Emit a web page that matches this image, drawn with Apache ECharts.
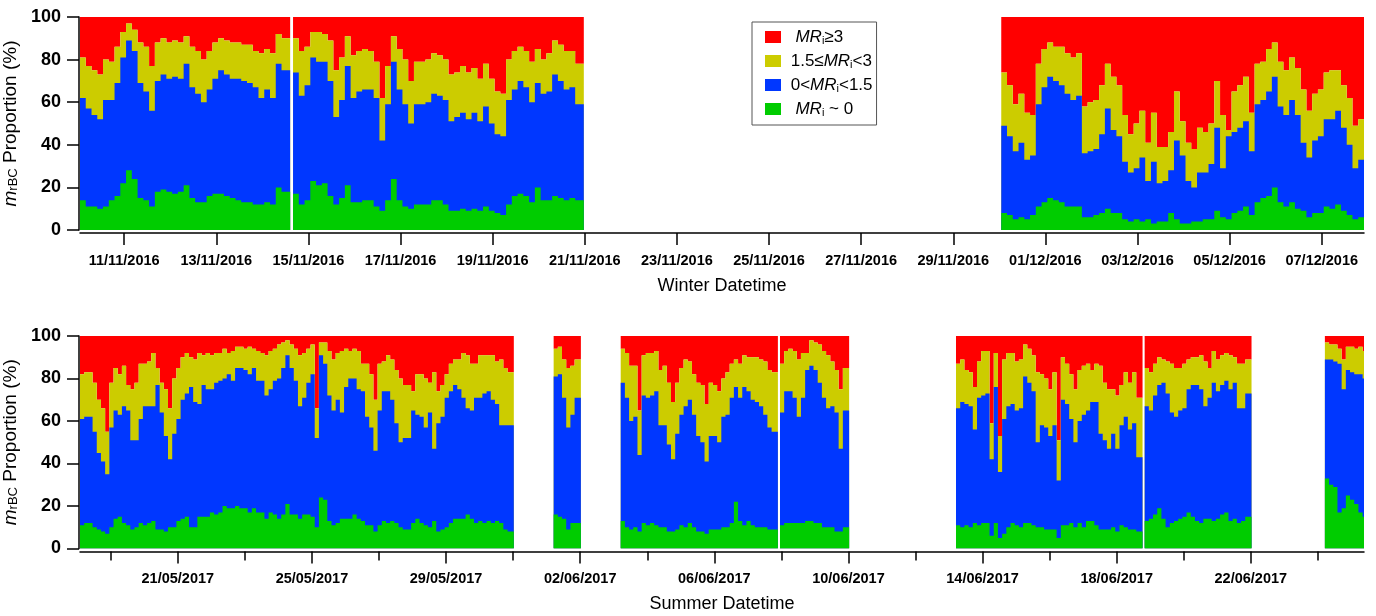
<!DOCTYPE html>
<html>
<head>
<meta charset="utf-8">
<title>rBC mixing state proportions</title>
<script src="https://cdn.jsdelivr.net/npm/echarts@6/dist/echarts.min.js"></script>
<style>
  html, body { margin: 0; padding: 0; background: #fff; }
  #chart { width: 1376px; height: 616px; }
</style>
</head>
<body>
<div id="chart"></div>
<script>
// 3-hourly bins. Each panel is split in runs of continuous data, one start time per run.
// Values are the cumulative tops (%):
//   green = MRi~0, blue = green + 0<MRi<1.5, yellow = blue + 1.5<=MRi<3, above yellow = MRi>=3

var winterStart = ['10/11/2016 01:00', '14/11/2016 16:00', '30/11/2016 01:00'];
var winterGreen = [
  [14,11,11,10,11,14,16,22,28,24,15,14,11,18,19,18,17,18,21,15,13,13,16,17,17,16,15,14,13,13,12,12,13,12,20,18],
  [17,12,14,23,21,22,16,12,15,21,13,13,14,14,11,9,14,24,14,11,10,12,12,12,14,14,12,9,9,10,9,10,9,11,9,8,7,12,16,17,16,13,20,14,14,16,15,14,15,14],
  [8,7,5,6,5,7,11,13,15,14,13,11,11,11,6,6,7,8,10,8,8,5,4,5,4,5,3,4,4,8,5,3,3,4,4,5,5,9,6,5,8,9,11,7,13,15,16,20,13,11,13,10,9,6,8,8,11,10,12,9,7,5,6]
];
var winterBlue = [
  [62,57,54,52,61,61,69,81,89,84,69,65,56,70,73,71,72,71,78,67,64,60,66,71,75,73,71,71,70,69,67,62,66,62,78,75],
  [74,63,68,81,79,79,70,53,61,77,62,65,66,66,62,42,59,79,66,59,50,59,59,60,64,63,61,51,53,55,52,55,51,58,50,45,44,61,66,70,67,60,69,64,65,73,70,66,67,59],
  [49,44,37,41,33,35,59,67,72,70,68,64,61,63,36,37,38,45,57,47,44,32,27,29,34,23,32,22,23,28,42,35,23,20,27,27,31,48,29,44,46,48,51,37,59,61,65,72,58,54,61,54,41,34,42,44,52,52,56,48,40,29,33]
];
var winterYellow = [
  [81,77,75,73,80,79,86,93,97,94,88,86,77,88,90,88,89,88,91,86,84,80,84,88,90,89,88,88,87,87,84,83,85,83,92,90],
  [90,84,86,93,93,92,89,75,81,91,82,84,85,84,79,62,77,91,85,80,70,79,79,80,83,82,80,73,74,77,74,76,71,78,71,65,64,80,84,86,84,79,85,80,83,89,87,84,84,78],
  [74,68,59,64,55,54,78,85,88,86,86,83,81,83,58,60,61,68,78,72,68,54,45,50,56,41,55,39,39,46,65,51,41,38,48,46,50,70,54,47,65,68,72,55,78,79,85,88,79,75,81,76,66,56,64,66,74,75,75,68,62,49,52]
];

var summerStart = ['18/05/2017 02:00', '01/06/2017 05:00', '03/06/2017 05:00', '07/06/2017 23:00',
                   '13/06/2017 05:00', '18/06/2017 20:00', '24/06/2017 05:00'];
var summerGreen = [
  [11,12,12,10,9,8,7,10,14,15,12,11,9,10,12,11,12,13,9,9,8,10,10,13,14,15,10,10,15,15,15,17,16,17,20,19,19,20,19,19,17,19,17,17,14,17,16,14,16,21,16,16,14,16,16,15,10,24,23,13,
   11,12,14,14,14,16,14,13,11,11,8,11,13,12,13,12,10,9,9,12,14,12,11,10,13,8,9,10,12,14,14,14,16,14,12,13,12,13,12,13,12,9,8],
  [16,15,14,9,12,12],
  [13,10,9,10,8,12,11,12,11,10,10,8,8,9,11,10,12,10,8,8,7,9,9,9,10,10,12,22,13,11,13,11,10,10,10,9,9],
  [11,12,12,12,12,12,13,13,12,12,10,10,10,8,8,10],
  [11,10,11,10,12,11,12,12,6,12,5,7,10,12,11,10,12,12,11,10,10,9,9,9,5,11,11,12,10,12,10,13,13,11,9,9,9,10,8,11,10,9,9,8],
  [13,14,16,19,14,10,12,13,14,15,17,15,13,12,14,14,13,14,16,17,13,14,12,13,15],
  [33,30,29,17,19,25,23,21,17,15]
];
var summerBlue = [
  [61,62,62,55,45,41,35,57,65,63,67,65,51,51,61,67,67,67,77,64,53,42,54,61,70,73,76,69,68,77,75,75,78,79,80,82,79,85,85,84,82,85,79,79,72,75,79,80,85,91,85,79,67,71,78,82,52,91,87,72,
   65,70,64,76,80,80,75,74,62,57,46,65,74,74,70,59,50,52,52,65,63,62,57,64,47,59,62,71,74,77,75,71,66,65,71,71,73,74,70,68,58,58,58],
  [81,82,71,57,63,71],
  [78,71,60,62,44,72,71,72,74,58,58,49,42,54,63,67,70,63,53,50,41,53,53,50,62,63,71,76,71,76,74,70,69,67,63,57,55],
  [64,74,74,71,62,71,84,86,84,78,71,66,67,64,47,65],
  [66,69,68,67,56,71,72,73,42,76,36,61,67,68,65,66,81,78,74,50,58,57,53,58,32,70,68,61,50,60,63,65,69,69,54,51,47,54,47,58,62,56,59,43],
  [67,65,72,77,78,73,64,62,65,66,75,77,77,75,67,71,78,74,77,79,75,78,66,66,73],
  [89,89,88,87,75,84,83,82,82,80]
];
var summerYellow = [
  [82,83,83,78,70,66,55,78,85,82,86,77,75,78,87,87,88,92,85,78,75,66,80,85,90,92,90,89,92,91,92,91,92,92,94,92,93,95,95,94,95,94,93,92,91,93,94,96,97,98,96,94,91,92,94,96,66,97,97,93,
   89,92,93,94,93,94,93,87,87,82,70,87,88,91,89,84,80,77,77,74,82,82,80,78,83,74,77,82,87,89,89,92,91,87,87,91,91,91,91,88,89,85,83],
  [94,95,89,85,86,89],
  [94,92,86,86,65,91,92,92,93,84,86,78,69,78,85,89,88,82,78,77,68,78,77,74,80,83,87,89,87,91,90,90,90,89,88,84,83],
  [87,93,94,93,89,92,92,98,97,96,93,91,88,84,75,85],
  [87,89,84,83,76,88,93,93,59,92,53,89,92,92,88,89,96,94,91,83,82,80,75,83,51,90,87,82,75,84,86,87,84,87,86,78,75,75,72,77,83,78,83,71],
  [85,83,87,90,89,88,87,85,85,87,89,90,90,91,88,85,93,89,91,92,91,90,87,87,89],
  [97,96,96,94,89,95,95,94,95,93]
];

var winterRange = ['10/11/2016 01:00', '07/12/2016 22:00'];
var summerRange = ['18/05/2017 02:00', '25/06/2017 09:00'];

var winterTicks = ['11/11/2016','13/11/2016','15/11/2016','17/11/2016','19/11/2016','21/11/2016','23/11/2016',
                   '25/11/2016','27/11/2016','29/11/2016','01/12/2016','03/12/2016','05/12/2016','07/12/2016'];
var summerTicks = ['19/05/2017','21/05/2017','23/05/2017','25/05/2017','27/05/2017','29/05/2017','31/05/2017',
                   '02/06/2017','04/06/2017','06/06/2017','08/06/2017','10/06/2017','12/06/2017','14/06/2017',
                   '16/06/2017','18/06/2017','20/06/2017','22/06/2017','24/06/2017'];
var summerLabels = ['21/05/2017','25/05/2017','29/05/2017','02/06/2017','06/06/2017','10/06/2017',
                    '14/06/2017','18/06/2017','22/06/2017'];

var names = ['MRi ~ 0', '0<MRi<1.5', '1.5≤MRi<3', 'MRi≥3'];
var colors = ['#00cc00', '#0037ff', '#cccc00', '#ff0000'];

var FONT = '"Liberation Sans", Arial, Helvetica, sans-serif';
var BIN = 3 * 3600 * 1000;

function parseDate(s) {
  var p = s.split(' ');
  var d = p[0].split('/');
  var hm = (p[1] || '00:00').split(':');
  return new Date(+d[2], +d[1] - 1, +d[0], +hm[0], +hm[1]).getTime();
}
function pad(n) { return n < 10 ? '0' + n : '' + n; }
function fmtDate(v) {
  var d = new Date(v);
  return pad(d.getDate()) + '/' + pad(d.getMonth() + 1) + '/' + d.getFullYear();
}

// step lines through the cumulative tops, with a null between runs
function tops(starts, runs) {
  var out = [];
  starts.forEach(function (s, i) {
    var t0 = parseDate(s);
    var n = runs[i].length;
    for (var k = 0; k <= n; k++) {
      out.push([t0 + k * BIN, runs[i][Math.min(k, n - 1)]]);   // closing point keeps the last bin's level
    }
    out.push([t0 + n * BIN + BIN / 2, null]);
  });
  return out;
}

// each class is the band between two cumulative tops: the fills are laid
// on top of each other from the upper band down (red fills from its floor up to 100)
function panelSeries(idx, starts, green, blue, yellow) {
  var bands = [
    { i: 3, data: tops(starts, yellow), origin: 'end' },
    { i: 2, data: tops(starts, yellow), origin: 'start' },
    { i: 1, data: tops(starts, blue), origin: 'start' },
    { i: 0, data: tops(starts, green), origin: 'start' }
  ];
  return bands.map(function (b, z) {
    return {
      name: names[b.i], type: 'line', xAxisIndex: idx, yAxisIndex: idx,
      step: 'end', symbol: 'none', showSymbol: false, connectNulls: false,
      data: b.data, z: 2 + z * 0.01,
      lineStyle: { width: 0 },
      itemStyle: { color: colors[b.i] },
      areaStyle: { color: colors[b.i], opacity: 1, origin: b.origin },
      emphasis: { disabled: true }
    };
  });
}

var richSub = {
  it: { fontStyle: 'italic', fontSize: 17, fontFamily: FONT },
  sub: { fontSize: 11, verticalAlign: 'bottom', lineHeight: 12, fontFamily: FONT }
};

function yAxisFor(idx) {
  return {
    type: 'value', gridIndex: idx, min: 0, max: 100, interval: 20, offset: 1,
    name: '{it|m}{sub|rBC} Proportion (%)',
    nameLocation: 'middle', nameGap: 48, nameRotate: 90,
    nameTextStyle: {
      fontSize: 19, color: '#000', fontFamily: FONT,
      rich: {
        it: { fontSize: 19, fontStyle: 'italic', fontFamily: FONT },
        sub: { fontSize: 13, verticalAlign: 'bottom', lineHeight: 14, fontFamily: FONT }
      }
    },
    axisLine: { show: true, lineStyle: { color: '#000', width: 1.5 } },
    axisTick: { show: true, length: 12, lineStyle: { color: '#000', width: 1.5 } },
    axisLabel: { fontSize: 18, fontWeight: 'bold', color: '#000', margin: 18, fontFamily: FONT },
    splitLine: { show: false }
  };
}

// x is a plain value axis in ms so the tick dates can be placed exactly
function xAxisFor(idx, range, ticks, labels, name) {
  return {
    type: 'value', gridIndex: idx, position: 'bottom',
    min: parseDate(range[0]), max: parseDate(range[1]), offset: 3,
    name: name, nameLocation: 'middle', nameGap: 44,
    nameTextStyle: { fontSize: 18, color: '#000', fontFamily: FONT },
    axisLine: { show: true, onZero: false, lineStyle: { color: '#000', width: 1.5 } },
    axisTick: { show: true, length: 12, customValues: ticks.map(parseDate), lineStyle: { color: '#000', width: 1.5 } },
    axisLabel: {
      customValues: labels.map(parseDate), formatter: fmtDate, hideOverlap: false,
      fontSize: 14.5, fontWeight: 'bold', color: '#000', margin: 20, fontFamily: FONT
    },
    splitLine: { show: false }
  };
}

var summerMinor = summerTicks.filter(function (d) { return summerLabels.indexOf(d) < 0; });

var legendText = {
  'MRi≥3': '  {it|MR}{sub|i}≥3',
  '1.5≤MRi<3': ' 1.5≤{it|MR}{sub|i}<3',
  '0<MRi<1.5': ' 0<{it|MR}{sub|i}<1.5',
  'MRi ~ 0': '  {it|MR}{sub|i} ~ 0'
};

var chart = echarts.init(document.getElementById('chart'), null, { renderer: 'canvas' });
chart.setOption({
  animation: false,
  backgroundColor: '#fff',
  grid: [
    { left: 80, right: 12, top: 17, height: 213, containLabel: false, outerBoundsMode: 'none' },
    { left: 80, right: 12, top: 336, height: 212.5, containLabel: false, outerBoundsMode: 'none' }
  ],
  legend: {
    orient: 'vertical', left: 752, top: 22,
    padding: [6, 4, 7, 13],
    itemWidth: 16, itemHeight: 12, itemGap: 6,
    borderColor: '#555', borderWidth: 1,
    icon: 'rect', selectedMode: false,
    data: [names[3], names[2], names[1], names[0]],
    formatter: function (n) { return legendText[n]; },
    textStyle: {
      fontSize: 17, color: '#000', fontFamily: FONT, lineHeight: 18,
      rich: richSub
    }
  },
  xAxis: [
    xAxisFor(0, winterRange, winterTicks, winterTicks, 'Winter Datetime'),
    xAxisFor(1, summerRange, summerLabels, summerLabels, 'Summer Datetime'),
    {
      type: 'value', gridIndex: 1, position: 'bottom',
      min: parseDate(summerRange[0]), max: parseDate(summerRange[1]), offset: 3,
      axisLine: { show: false, onZero: false },
      axisTick: { show: true, length: 9, customValues: summerMinor.map(parseDate), lineStyle: { color: '#000', width: 1.5 } },
      axisLabel: { show: false },
      splitLine: { show: false }
    }
  ],
  yAxis: [yAxisFor(0), yAxisFor(1)],
  series: panelSeries(0, winterStart, winterGreen, winterBlue, winterYellow)
    .concat(panelSeries(1, summerStart, summerGreen, summerBlue, summerYellow))
});
</script>
</body>
</html>
